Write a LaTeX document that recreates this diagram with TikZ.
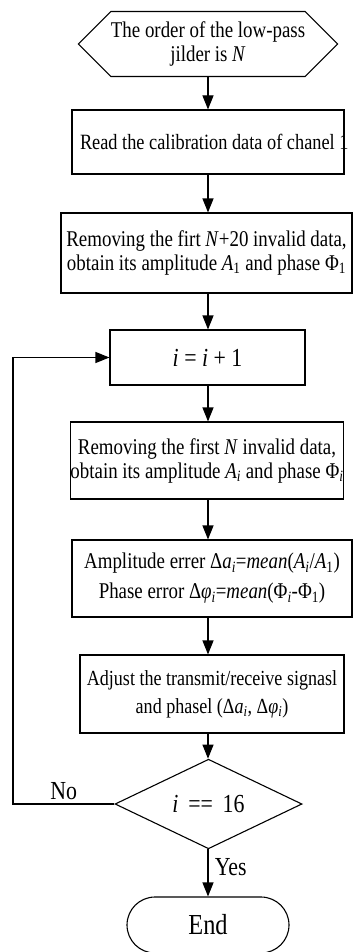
\documentclass[tikz,border=0pt]{standalone}
\usepackage{fontspec}
\setmainfont{Liberation Serif}[FakeStretch=0.84]
\usepackage{tikz}
\usetikzlibrary{shapes.geometric,shapes.symbols,shapes.misc,arrows.meta}

\newcommand{\iv}[1]{\textit{#1}}

\begin{document}
\begin{tikzpicture}[x=1pt,y=-1pt,
  font=\fontsize{22.5}{24}\selectfont,
  box/.style={draw,line width=1.1pt,inner sep=0pt,align=center},
  big/.style={font=\fontsize{26}{28}\selectfont},
  arr/.style={-{Triangle[length=14pt,width=11pt]},line width=1.1pt}]
\useasboundingbox (0,0) rectangle (353,952);
\coordinate (axis) at (208,0);

\node[box,signal,signal to=west and east,signal pointer angle=90,
  minimum width=249pt,minimum height=65pt] (start) at (208,44)
  {The order of the low-pass\\ jilder is \iv{N}};
\node[box,minimum width=272pt,minimum height=64pt,font=\fontsize{21.8}{24}\selectfont] (read) at (208,142)
  {\makebox[256pt][l]{Read the calibration data of chanel 1}};
\node[box,minimum width=291pt,minimum height=80pt] (first) at (206.5,253)
  {\makebox[0pt]{Removing the firt \iv{N}+20 invalid data,}\\
   \makebox[0pt]{obtain its amplitude \iv{A}\textsubscript{1} and phase Φ\textsubscript{1}}};
\node[box,big,minimum width=195pt,minimum height=55pt]
  (incr) at (207.5,357.5) {\iv{i} = \iv{i} + 1};
\node[box,minimum width=268pt,minimum height=77pt] (rest) at (207,460.5)
  {Removing the first \iv{N} invalid data,\\
   obtain its amplitude \iv{A\textsubscript{i}} and phase Φ\textsubscript{\iv{i}}};
\node[box,minimum width=280pt,minimum height=77pt] (err) at (212,578.5)
  {Amplitude errer Δ\iv{a\textsubscript{i}}=\iv{mean}(\iv{A\textsubscript{i}}/\iv{A}\textsubscript{1})\\[6pt]
   Phase error Δ\iv{φ\textsubscript{i}}=\iv{mean}(Φ\textsubscript{\iv{i}}-Φ\textsubscript{1})};
\node[box,minimum width=264pt,minimum height=78pt,font=\fontsize{21.5}{24}\selectfont] (adj) at (212,694)
  {Adjust the transmit/receive signasl\\[4pt]
   and phasel (Δ\iv{a\textsubscript{i}}, Δ\iv{φ\textsubscript{i}})};
\node[box,diamond,big,minimum width=187pt,minimum height=62pt]
  (cond) at (208.5,804) {\iv{i}\, ={}=\, 16};
\node[box,rounded rectangle,minimum width=162pt,minimum height=56pt,font=\fontsize{29}{30}\selectfont]
  (stop) at (208,925) {End};

\draw[arr] (start.south) -- (read.north -| axis);
\draw[arr] (read.south -| axis) -- (first.north -| axis);
\draw[arr] (first.south -| axis) -- (incr.north -| axis);
\draw[arr] (incr.south -| axis) -- (rest.north -| axis);
\draw[arr] (rest.south -| axis) -- (err.north -| axis);
\draw[arr] (err.south -| axis) -- (adj.north -| axis);
\draw[arr] (adj.south -| axis) -- (cond.north -| axis);
\draw[arr] (cond.south -| axis) -- node[right=3pt,pos=0.38,font=\fontsize{26}{28}\selectfont] {Yes} (stop.north -| axis);
\coordinate (back) at (13,0);
\draw[arr] (cond.west) -- node[above=0pt,pos=0.5,font=\fontsize{26}{28}\selectfont] {No} (cond.west -| back)
  |- (incr.west);
\end{tikzpicture}
\end{document}
